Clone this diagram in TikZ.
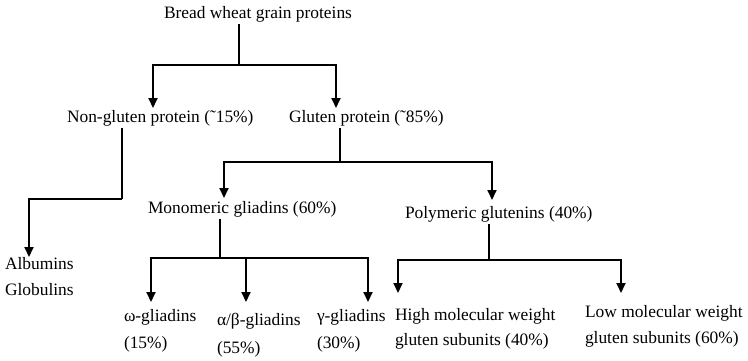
\documentclass[tikz,border=0pt]{standalone}
\usepackage{fontspec}
\setmainfont{Liberation Serif}
\usetikzlibrary{arrows.meta}
\tikzset{
  lbl/.style={anchor=base west, inner sep=2bp, outer sep=0pt, font=\fontsize{17.4bp}{20bp}\selectfont},
  link/.style={line width=1.8bp},
  arr/.style={link, -{Triangle[length=10bp,width=9bp]}},
}
\begin{document}
\begin{tikzpicture}[x=1bp,y=-1bp]
\useasboundingbox (0,0) rectangle (748,360);
% nodes
\node[lbl] (root) at (162,18.5) {Bread wheat grain proteins};
\node[lbl] (ng) at (65,122.5) {Non-gluten protein (˜15\%)};
\node[lbl] (gl) at (287,122.5) {Gluten protein (˜85\%)};
\node[lbl] (alb) at (3,269.5) {Albumins};
\node[lbl] (glob) at (3,295.5) {Globulins};
\node[lbl] (mono) at (146,213.5) {Monomeric gliadins (60\%)};
\node[lbl] (poly) at (403,218.5) {Polymeric glutenins (40\%)};
\node[lbl] (om) at (122,321.5) {ω-gliadins};
\node[lbl] (om2) at (122,348.5) {(15\%)};
\node[lbl] (ab) at (215,325.5) {α/β-gliadins};
\node[lbl] (ab2) at (215,353) {(55\%)};
\node[lbl] (ga) at (315,321.5) {γ-gliadins};
\node[lbl] (ga2) at (315,348.5) {(30\%)};
\node[lbl] (hmw) at (393,320.5) {High molecular weight};
\node[lbl] (hmw2) at (393,345.5) {gluten subunits (40\%)};
\node[lbl] (lmw) at (583,317.5) {Low molecular\hspace{4.5bp}weight};
\node[lbl] (lmw2) at (583,343.5) {gluten subunits (60\%)};
% junctions and arrow ends
\coordinate (j0) at (239,65);
\coordinate (tNG) at (153,108);
\coordinate (tGL) at (336,108);
\coordinate (jNG) at (122,199);
\coordinate (tALB) at (29,257);
\coordinate (jGL) at (340,162);
\coordinate (tMO) at (224,198);
\coordinate (tPO) at (492,200);
\coordinate (jMO) at (220,258);
\coordinate (tOM) at (151,302);
\coordinate (tAB) at (246,302);
\coordinate (tGA) at (368,302);
\coordinate (jPO) at (489,260);
\coordinate (tHM) at (398,293);
\coordinate (tLM) at (621,293);
% connectors
\draw[link] (root.south -| j0) -- (j0);
\draw[arr] (j0) -| (tNG);
\draw[arr] (j0) -| (tGL);
\draw[link] (ng.south -| jNG) -- (jNG);
\draw[arr] (jNG) -| (tALB);
\draw[link] (gl.south -| jGL) -- (jGL);
\draw[arr] (jGL) -| (tMO);
\draw[arr] (jGL) -| (tPO);
\draw[link] (mono.south -| jMO) -- (jMO);
\draw[arr] (jMO) -| (tOM);
\draw[arr] (jMO -| tAB) -- (tAB);
\draw[arr] (jMO) -| (tGA);
\draw[link] (poly.south -| jPO) -- (jPO);
\draw[arr] (jPO) -| (tHM);
\draw[arr] (jPO) -| (tLM);
\end{tikzpicture}
\end{document}
